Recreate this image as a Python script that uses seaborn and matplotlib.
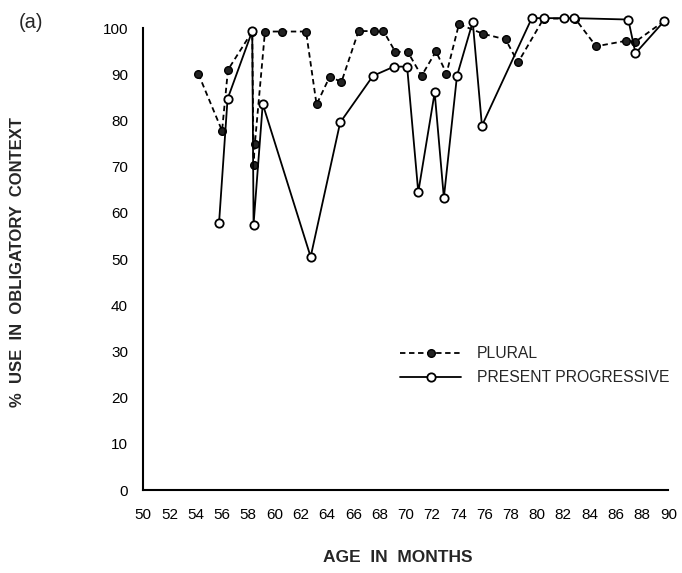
import matplotlib
matplotlib.use("Agg")
import matplotlib.pyplot as plt
import seaborn as sns
import pandas as pd

# ---- data ----
plural_age = [54.2, 56.0, 56.45, 58.3, 58.4, 58.5, 59.27, 60.6, 62.4, 63.2, 64.2, 65.1,
              66.4, 67.6, 68.3, 69.2, 70.15, 71.2, 72.3, 73.1, 74.05, 75.9, 77.6, 78.55,
              80.5, 82.9, 84.5, 86.8, 87.5, 89.7]
plural_pct = [90.1, 77.8, 91.0, 99.3, 70.5, 75.0, 99.3, 99.3, 99.3, 83.5, 89.5, 88.4,
              99.4, 99.4, 99.4, 94.9, 94.9, 89.7, 95.0, 90.2, 100.9, 98.8, 97.6, 92.6,
              102.1, 102.1, 96.1, 97.3, 97.1, 101.6]

prog_age = [55.77, 56.42, 58.3, 58.4, 59.1, 62.75, 65.0, 67.5, 69.1, 70.1, 70.95, 72.2,
            72.9, 73.9, 75.1, 75.8, 79.6, 80.55, 82.05, 82.8, 86.95, 87.5, 89.7]
prog_pct = [57.8, 84.7, 99.4, 57.5, 83.6, 50.5, 79.6, 89.7, 91.7, 91.7, 64.5, 86.1,
            63.3, 89.7, 101.4, 78.9, 102.2, 102.2, 102.2, 102.2, 101.9, 94.6, 101.6]

x_ticks = list(range(50, 91, 2))
y_ticks = list(range(0, 101, 10))
series_labels = ["PLURAL", "PRESENT PROGRESSIVE"]

sns.set_theme(style="white")
plt.rcParams['font.family'] = ['Liberation Sans', 'DejaVu Sans']

fig = plt.figure(figsize=(6.82, 5.73), dpi=100)
ax = fig.add_axes([143.3 / 682, (573 - 490) / 573, 525 / 682, (103 * 4.617) / 573])

df_pl = pd.DataFrame({"age": plural_age, "pct": plural_pct})
df_pr = pd.DataFrame({"age": prog_age, "pct": prog_pct})

sns.lineplot(data=df_pl, x="age", y="pct", sort=False, estimator=None, ax=ax,
             color="black", lw=1.3, marker="o", markersize=5.5,
             markerfacecolor="#222222", markeredgecolor="black", markeredgewidth=1.0,
             clip_on=False)
sns.lineplot(data=df_pr, x="age", y="pct", sort=False, estimator=None, ax=ax,
             color="black", lw=1.3, marker="o", markersize=6,
             markerfacecolor="white", markeredgecolor="black", markeredgewidth=1.3,
             clip_on=False)
lines = ax.get_lines()
lines[0].set_dashes((3, 2))
lines[0].set_zorder(3)
lines[1].set_zorder(4)

ax.set_xlim(50, 90)
ax.set_ylim(0, 103)
ax.set_xticks(x_ticks)
ax.set_xticklabels([str(t) for t in x_ticks])
ax.set_yticks(y_ticks)
ax.set_yticklabels([str(t) for t in y_ticks])
ax.tick_params(axis="both", direction="out", length=5, width=1.2, colors="black",
               labelsize=11)
ax.tick_params(axis="x", pad=8)
ax.tick_params(axis="y", pad=6)
for s in ["top", "right"]:
    ax.spines[s].set_visible(False)
for s in ["left", "bottom"]:
    ax.spines[s].set_color("black")
    ax.spines[s].set_linewidth(1.5)
ax.spines["left"].set_bounds(0, 100)
ax.set_xlabel("")
ax.set_ylabel("")

fig.text(18 / 682, 1 - 262 / 573, "%  USE  IN  OBLIGATORY  CONTEXT", rotation=90,
         ha="center", va="center", fontsize=12, fontweight="bold")
fig.text(398 / 682, 1 - 558 / 573, "AGE  IN  MONTHS", ha="center", va="center",
         fontsize=12.5, fontweight="bold")
fig.text(31 / 682, 1 - 22 / 573, "(a)", ha="center", va="center", fontsize=14.5)

leg = ax.legend(handles=[lines[0], lines[1]], labels=series_labels,
                loc="upper left", bbox_to_anchor=(400 / 682, 1 - 346 / 573),
                bbox_transform=fig.transFigure, frameon=False, fontsize=11.3,
                handlelength=3.9, handletextpad=1.0, labelspacing=0.6,
                borderpad=0, borderaxespad=0)

fig.savefig("out.png", dpi=100, facecolor="white")
